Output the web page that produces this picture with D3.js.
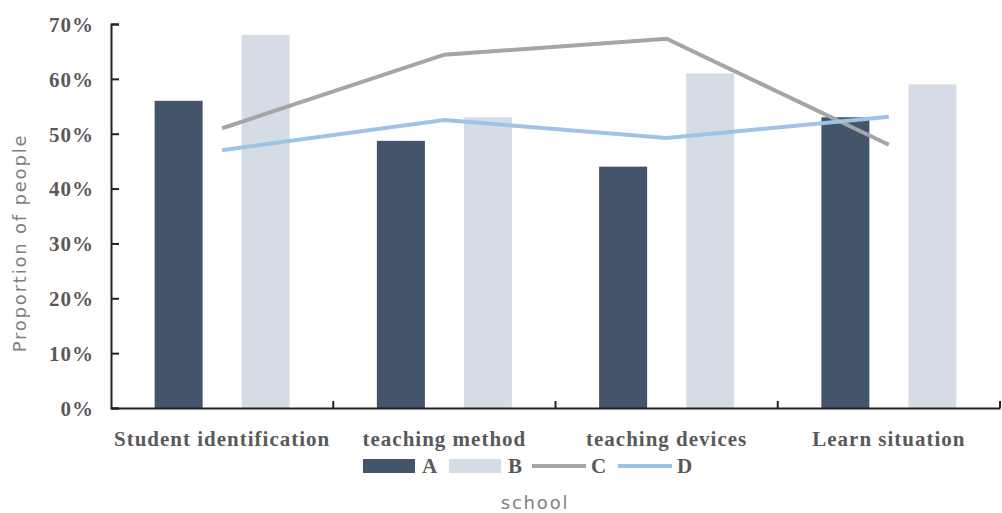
<!DOCTYPE html>
<html>
<head>
<meta charset="utf-8">
<script src="https://cdn.jsdelivr.net/npm/d3@7"></script>
<style>
  body { margin: 0; background: #fff; }
</style>
</head>
<body>
<div id="chart"></div>
<script>
var categories = ["Student identification", "teaching method", "teaching devices", "Learn situation"];
var seriesA = [0.56, 0.487, 0.44, 0.53];
var seriesB = [0.68, 0.53, 0.61, 0.59];
var seriesC = [0.51, 0.644, 0.673, 0.48];
var seriesD = [0.47, 0.525, 0.492, 0.531];
var yTicks = [0, 0.1, 0.2, 0.3, 0.4, 0.5, 0.6, 0.7];
var legendNames = ["A", "B", "C", "D"];

var w = 1002;
var h = 513;
var margin = {left: 111, right: 2, top: 24, bottom: 105};

var colors = {A: "#44546a", B: "#d6dce5", C: "#a5a5a5", D: "#9dc3e6"};
var serif = "'Liberation Serif', 'DejaVu Serif', serif";

var svg = d3.select("#chart")
            .append("svg")
            .attr("width", w)
            .attr("height", h);

var x = d3.scaleBand()
          .domain(categories)
          .range([margin.left, w - margin.right]);

var y = d3.scaleLinear()
          .domain([0, 0.7])
          .range([h - margin.bottom, margin.top]);

var barW = 48;
var gap = 39;

// bars A
svg.selectAll("rect.a")
   .data(seriesA)
   .enter()
   .append("rect")
   .attr("x", function(d, i) { return x(categories[i]) + x.bandwidth() / 2 - gap / 2 - barW; })
   .attr("y", function(d) { return y(d); })
   .attr("width", barW)
   .attr("height", function(d) { return y(0) - y(d); })
   .attr("fill", colors.A);

// bars B
svg.selectAll("rect.b")
   .data(seriesB)
   .enter()
   .append("rect")
   .attr("x", function(d, i) { return x(categories[i]) + x.bandwidth() / 2 + gap / 2; })
   .attr("y", function(d) { return y(d); })
   .attr("width", barW)
   .attr("height", function(d) { return y(0) - y(d); })
   .attr("fill", colors.B);

var line = d3.line()
             .x(function(d, i) { return x(categories[i]) + x.bandwidth() / 2; })
             .y(function(d) { return y(d); });

svg.append("path")
   .attr("d", line(seriesC))
   .attr("fill", "none")
   .attr("stroke", colors.C)
   .attr("stroke-width", 4);

svg.append("path")
   .attr("d", line(seriesD))
   .attr("fill", "none")
   .attr("stroke", colors.D)
   .attr("stroke-width", 4);

// y axis
var yAxis = d3.axisLeft(y)
              .tickValues(yTicks)
              .tickFormat(d3.format(".0%"))
              .tickSize(-8)
              .tickPadding(17);

var gy = svg.append("g")
            .attr("transform", "translate(" + margin.left + ",0)")
            .call(yAxis);
gy.select(".domain").attr("stroke", "#222").attr("stroke-width", 2);
gy.selectAll(".tick line").attr("stroke", "#222").attr("stroke-width", 2);
gy.selectAll(".tick text")
  .attr("fill", "#595959")
  .style("font-family", serif)
  .style("font-weight", "bold")
  .style("font-size", "21px")
  .style("letter-spacing", "1px")
  .attr("dy", "0.35em");

// x axis
var xAxis = d3.axisBottom(x).tickSize(0).tickFormat("");
var gx = svg.append("g")
            .attr("transform", "translate(0," + y(0) + ")")
            .call(xAxis);
gx.select(".domain").attr("stroke", "#222").attr("stroke-width", 2);

svg.selectAll("line.xtick")
   .data(categories.slice(1).concat(["end"]))
   .enter()
   .append("line")
   .attr("x1", function(d, i) { return i < categories.length - 1 ? x(d) : x.range()[1]; })
   .attr("x2", function(d, i) { return i < categories.length - 1 ? x(d) : x.range()[1]; })
   .attr("y1", y(0))
   .attr("y2", y(0) - 7)
   .attr("stroke", "#222")
   .attr("stroke-width", 2);

svg.selectAll("text.cat")
   .data(categories)
   .enter()
   .append("text")
   .attr("x", function(d) { return x(d) + x.bandwidth() / 2; })
   .attr("y", 446)
   .attr("text-anchor", "middle")
   .attr("fill", "#595959")
   .style("font-family", serif)
   .style("font-weight", "bold")
   .style("font-size", "21px")
   .style("letter-spacing", "1px")
   .text(function(d) { return d; });

// axis titles
svg.append("text")
   .attr("transform", "translate(26,243) rotate(-90)")
   .attr("text-anchor", "middle")
   .attr("fill", "#7f7f7f")
   .style("font-family", "'DejaVu Sans', sans-serif")
   .style("font-size", "18px")
   .style("letter-spacing", "1.8px")
   .text("Proportion of people");

svg.append("text")
   .attr("x", 535)
   .attr("y", 509)
   .attr("text-anchor", "middle")
   .attr("fill", "#7f7f7f")
   .style("font-family", "'DejaVu Sans', sans-serif")
   .style("font-size", "18px")
   .style("letter-spacing", "1.8px")
   .text("school");

// legend
var legendX = [363, 449, 532, 618];
var legend = svg.selectAll("g.legend")
                .data(legendNames)
                .enter()
                .append("g")
                .attr("class", "legend")
                .attr("transform", function(d, i) { return "translate(" + legendX[i] + ",466)"; });

legend.each(function(d, i) {
  var g = d3.select(this);
  if (i < 2) {
    g.append("rect")
     .attr("x", 0).attr("y", -7)
     .attr("width", 52).attr("height", 14)
     .attr("fill", colors[d]);
  } else {
    g.append("line")
     .attr("x1", 0).attr("x2", 54)
     .attr("y1", 0).attr("y2", 0)
     .attr("stroke", colors[d])
     .attr("stroke-width", 4);
  }
  g.append("text")
   .attr("x", 59)
   .attr("y", 7)
   .attr("fill", "#595959")
   .style("font-family", serif)
   .style("font-weight", "bold")
   .style("font-size", "21px")
   .text(d);
});
</script>
</body>
</html>
